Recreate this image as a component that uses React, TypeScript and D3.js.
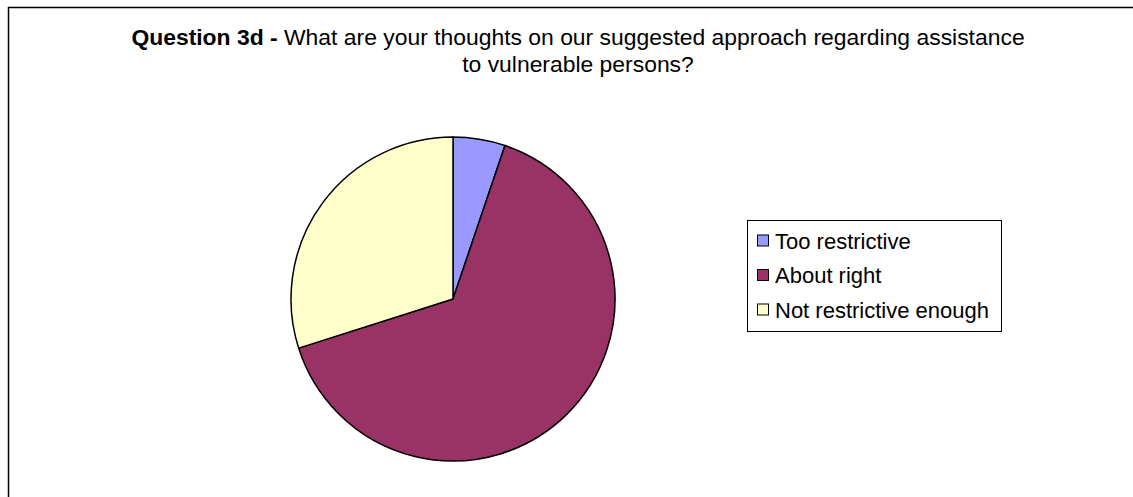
import React from "react";
import * as d3 from "d3";

const categories = ["Too restrictive", "About right", "Not restrictive enough"];
const values = [5.2, 64.9, 29.9];
const colors = ["#9999FF", "#993366", "#FFFFCC"];
const titleBold = "Question 3d - ";
const titleLine1 = "What are your thoughts on our suggested approach regarding assistance";
const titleLine2 = "to vulnerable persons?";

export default function App() {
  const W = 1133, H = 497;
  const cx = 453, cy = 299, r = 162;
  const pie = d3.pie<number>().sort(null).value((d) => d);
  const arcs = pie(values);
  const arcGen = d3.arc<d3.PieArcDatum<number>>().innerRadius(0).outerRadius(r);
  const font = "'Liberation Sans', Arial, sans-serif";
  const legX = 747, legY = 220, legW = 254, legH = 111;
  const rowY = d3.scalePoint<string>().domain(categories).range([legY + 20.5, legY + 89.5]);
  return (
    <svg width={W} height={H} style={{ position: "fixed", left: 0, top: 0 }}>
      <rect x={0} y={0} width={W} height={H} fill="#fff" />
      <rect x={8.5} y={7.5} width={W + 20} height={H + 20} fill="none" stroke="#000" strokeWidth={1.5} />
      <text x={578} y={45} textAnchor="middle" fontFamily={font} fontSize={22.9} fill="#000">
        <tspan fontWeight="bold">{titleBold}</tspan>
        <tspan>{titleLine1}</tspan>
      </text>
      <text x={578} y={72} textAnchor="middle" fontFamily={font} fontSize={22.9} fill="#000">{titleLine2}</text>
      <g transform={`translate(${cx},${cy})`}>
        {arcs.map((a, i) => (
          <path key={i} d={arcGen(a) || ""} fill={colors[i]} stroke="#000" strokeWidth={1.5} strokeLinejoin="round" />
        ))}
      </g>
      <rect x={legX + 0.5} y={legY + 0.5} width={legW} height={legH} fill="#fff" stroke="#000" strokeWidth={1} />
      {categories.map((c, i) => (
        <g key={c}>
          <rect x={legX + 10.5} y={(rowY(c) as number) - 5.5} width={11} height={11} fill={colors[i]} stroke="#000" strokeWidth={1} />
          <text x={legX + 28} y={(rowY(c) as number) + 8} fontFamily={font} fontSize={22} fill="#000">{c}</text>
        </g>
      ))}
    </svg>
  );
}
